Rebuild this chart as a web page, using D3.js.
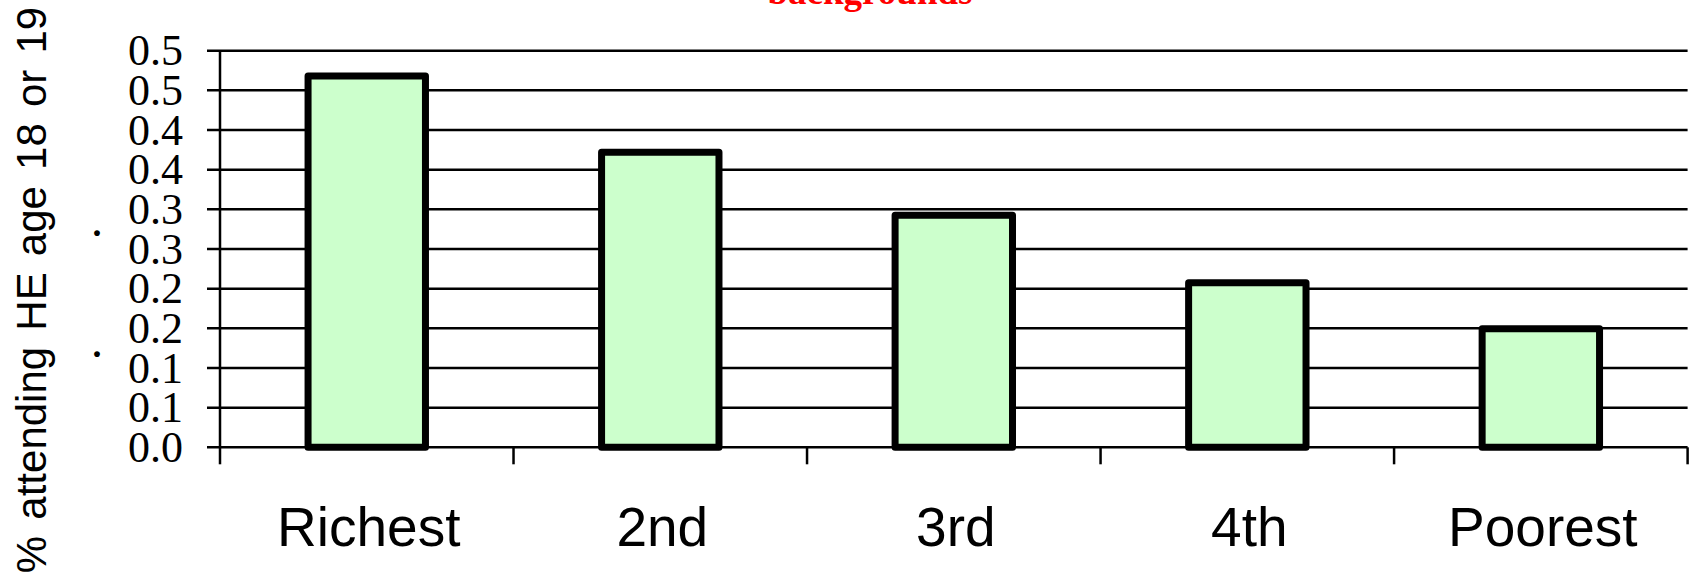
<!DOCTYPE html>
<html>
<head>
<meta charset="utf-8">
<script src="https://cdn.jsdelivr.net/npm/d3@7"></script>
<style>
  html, body { margin: 0; padding: 0; background: #fff; }
  svg { display: block; }
</style>
</head>
<body>
<svg id="chart" width="1694" height="575"></svg>
<script>
// ---- data ----
const categories = ["Richest", "2nd", "3rd", "4th", "Poorest"];
const values = [0.468, 0.372, 0.2925, 0.2075, 0.1495];
const yTicks = [0, 0.05, 0.1, 0.15, 0.2, 0.25, 0.3, 0.35, 0.4, 0.45, 0.5];
const yTickLabels = ["0.0", "0.1", "0.1", "0.2", "0.2", "0.3", "0.3", "0.4", "0.4", "0.5", "0.5"];
const yTitle = "% attending HE age 18 or 19";
const chartTitle = "backgrounds";

// ---- layout ----
const svg = d3.select("#chart");
const plotLeft = 220, plotRight = 1687.6, plotTop = 50.7, plotBottom = 447.3;

const x = d3.scaleBand().domain(categories).range([plotLeft, plotRight])
  .paddingInner(0.6).paddingOuter(0.3);
const y = d3.scaleLinear().domain([0, 0.5]).range([plotBottom, plotTop]);
const step = x.step();

// title (cut off at top)
svg.append("text")
  .attr("x", 870).attr("y", 4)
  .attr("text-anchor", "middle")
  .attr("font-family", "Liberation Serif, Times New Roman, serif")
  .attr("font-weight", "bold")
  .attr("font-size", 37)
  .attr("fill", "#ff0000")
  .text(chartTitle);

// gridlines (with left tick extension)
svg.append("g").selectAll("line").data(yTicks).join("line")
  .attr("x1", plotLeft - 13).attr("x2", plotRight)
  .attr("y1", d => y(d)).attr("y2", d => y(d))
  .attr("stroke", "#000").attr("stroke-width", 2.5);

// y tick labels
svg.append("g").selectAll("text").data(yTicks).join("text")
  .attr("x", 183).attr("y", d => y(d))
  .attr("dy", "0.33em")
  .attr("text-anchor", "end")
  .attr("font-family", "Liberation Serif, Times New Roman, serif")
  .attr("font-size", 44)
  .attr("fill", "#000")
  .text((d, i) => yTickLabels[i]);

// vertical axis line
svg.append("line")
  .attr("x1", plotLeft).attr("x2", plotLeft)
  .attr("y1", plotTop).attr("y2", plotBottom)
  .attr("stroke", "#000").attr("stroke-width", 2.5);

// category boundary ticks below axis
const boundaries = categories.map(c => x(c) - step * 0.3).concat([plotRight]);
svg.append("g").selectAll("line").data(boundaries).join("line")
  .attr("x1", d => d).attr("x2", d => d)
  .attr("y1", plotBottom).attr("y2", plotBottom + 17)
  .attr("stroke", "#000").attr("stroke-width", 2.5);

// bars
svg.append("g").selectAll("rect").data(values).join("rect")
  .attr("x", (d, i) => x(categories[i]))
  .attr("width", x.bandwidth())
  .attr("y", d => y(d))
  .attr("height", d => y(0) - y(d))
  .attr("fill", "#ccffcc")
  .attr("stroke", "#000")
  .attr("stroke-width", 7)
  .attr("stroke-linejoin", "round");

// x labels
svg.append("g").selectAll("text").data(categories).join("text")
  .attr("x", d => x(d) + x.bandwidth() / 2 + 2)
  .attr("y", 546)
  .attr("text-anchor", "middle")
  .attr("font-family", "Liberation Sans, Arial, sans-serif")
  .attr("font-size", 55)
  .attr("fill", "#000")
  .text(d => d);

// y axis title
svg.append("text")
  .attr("transform", "translate(46,290) rotate(-90)")
  .attr("text-anchor", "middle")
  .attr("font-family", "Liberation Sans, Arial, sans-serif")
  .attr("font-size", 42)
  .attr("word-spacing", 4.5)
  .attr("fill", "#000")
  .text(yTitle);

// stray dots
svg.append("g").selectAll("text").data([232, 353]).join("text")
  .attr("x", 97).attr("y", d => d)
  .attr("dy", "0.12em")
  .attr("text-anchor", "middle")
  .attr("font-family", "Liberation Serif, Times New Roman, serif")
  .attr("font-weight", "bold")
  .attr("font-size", 36)
  .attr("fill", "#000")
  .text(".");
</script>
</body>
</html>
